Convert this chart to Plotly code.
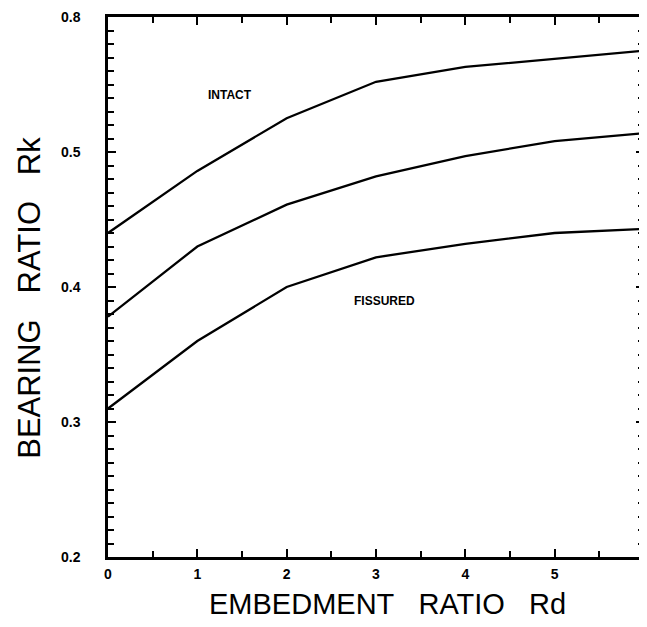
import plotly.graph_objects as go

# Data
embedment = [0, 1, 2, 3, 4, 5, 6]
intact = [0.440, 0.486, 0.525, 0.552, 0.563, 0.569, 0.575]
middle = [0.378, 0.430, 0.461, 0.482, 0.497, 0.508, 0.514]
fissured = [0.310, 0.360, 0.400, 0.422, 0.432, 0.440, 0.443]

y_tickvals = [0.2, 0.3, 0.4, 0.5, 0.6]
y_ticktext = ["0.2", "0.3", "0.4", "0.5", "0.8"]
x_tickvals = [0, 1, 2, 3, 4, 5, 6]
x_ticktext = ["0", "1", "2", "3", "4", "5", "6"]

labels = ["INTACT", "FISSURED"]
label_x = [1.37, 3.1]
label_y = [0.542, 0.39]

x_title = "EMBEDMENT\u00a0\u00a0\u00a0RATIO\u00a0\u00a0\u00a0Rd"
y_title = "BEARING\u00a0\u00a0\u00a0RATIO\u00a0\u00a0\u00a0Rk"

fig = go.Figure()
for series in (intact, middle, fissured):
    fig.add_trace(go.Scatter(x=embedment, y=series, mode="lines",
                             line=dict(color="black", width=2.3),
                             showlegend=False, hoverinfo="skip"))

for t, lx, ly in zip(labels, label_x, label_y):
    fig.add_annotation(x=lx, y=ly, text=f"<b>{t}</b>", showarrow=False,
                       font=dict(family="Liberation Sans Narrow, Liberation Sans, Arial",
                                 size=12, color="black"))

# axis titles as annotations for precise placement
fig.add_annotation(xref="paper", yref="paper", x=0.522, y=0, yshift=-47,
                   yanchor="middle", xanchor="center", showarrow=False,
                   text=x_title,
                   font=dict(family="Liberation Sans, Arial", size=29, color="black"))
fig.add_annotation(xref="paper", yref="paper", x=0, xshift=-78, y=0.48,
                   xanchor="center", yanchor="middle", showarrow=False,
                   textangle=-90, text=y_title,
                   font=dict(family="Liberation Sans, Arial", size=31, color="black"))

fig.update_layout(
    width=639, height=611,
    margin=dict(l=100, r=3, t=9, b=62),
    paper_bgcolor="white", plot_bgcolor="white",
    font=dict(family="Liberation Sans, Arial", color="black"),
)

tickfont = dict(family="Liberation Sans, Arial", size=14, color="black", weight="bold")

fig.update_xaxes(
    range=[0, 6], tickvals=x_tickvals, ticktext=x_ticktext, automargin=False,
    ticks="inside", ticklen=8, tickwidth=2, tickcolor="black",
    minor=dict(dtick=0.5, tick0=0, ticks="inside", ticklen=6, tickwidth=2, tickcolor="black"),
    showline=True, linecolor="black", linewidth=2.5, mirror="ticks",
    showgrid=False, zeroline=False, tickfont=tickfont, ticklabelstandoff=2,
)
fig.update_yaxes(
    range=[0.2, 0.6], tickvals=y_tickvals, ticktext=y_ticktext, automargin=False,
    ticks="inside", ticklen=8, tickwidth=2, tickcolor="black",
    minor=dict(dtick=0.01, tick0=0.2, ticks="inside", ticklen=6, tickwidth=2, tickcolor="black"),
    showline=True, linecolor="black", linewidth=2.5, mirror="ticks",
    showgrid=False, zeroline=False, tickfont=tickfont, ticklabelstandoff=22,
)

fig.write_html("out.html")
